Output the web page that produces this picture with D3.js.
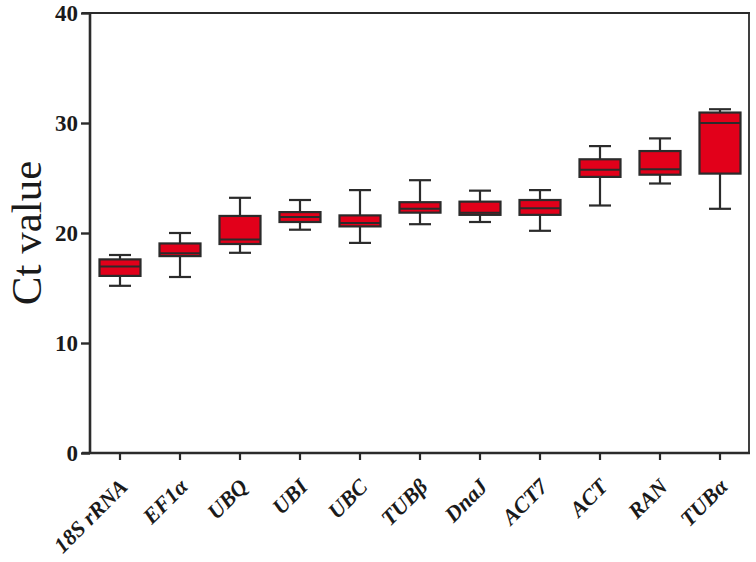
<!DOCTYPE html>
<html>
<head>
<meta charset="utf-8">
<script src="https://cdn.jsdelivr.net/npm/d3@7"></script>
<style>
  html, body { margin: 0; padding: 0; background: #fff; }
  svg { display: block; }
</style>
</head>
<body>
<svg id="chart" width="756" height="562"></svg>
<script>
const categories = ["18S rRNA", "EF1α", "UBQ", "UBI", "UBC", "TUBβ", "DnaJ", "ACT7", "ACT", "RAN", "TUBα"];
const whiskerMin = [15.2, 16.0, 18.2, 20.3, 19.1, 20.8, 21.0, 20.2, 22.5, 24.5, 22.2];
const q1Values   = [16.1, 17.9, 19.0, 21.0, 20.6, 21.85, 21.65, 21.65, 25.1, 25.3, 25.4];
const medians    = [16.95, 18.15, 19.4, 21.45, 20.9, 22.2, 21.85, 22.25, 25.75, 25.8, 30.0];
const q3Values   = [17.6, 19.05, 21.55, 21.9, 21.6, 22.8, 22.85, 23.0, 26.7, 27.45, 30.95];
const whiskerMax = [18.0, 20.0, 23.2, 23.0, 23.9, 24.8, 23.85, 23.9, 27.9, 28.6, 31.25];
const yTicks = [0, 10, 20, 30, 40];
const yTitle = "Ct value";

(function () {
const svg = d3.select("#chart");
const mLeft = 90, mRight = 750, mTop = 13, mBottom = 453;
const ink = "#2b2b2b";

const x = d3.scaleBand().domain(categories).range([mLeft, mRight]).paddingInner(0).paddingOuter(0);
const y = d3.scaleLinear().domain([0, 40]).range([mBottom, mTop]);

const boxW = 41, capW = 22;

const data = categories.map((c, i) => ({
  c, lo: whiskerMin[i], q1: q1Values[i], med: medians[i], q3: q3Values[i], hi: whiskerMax[i]
}));

svg.append("line").attr("x1", mLeft - 8).attr("x2", mRight).attr("y1", y(40)).attr("y2", y(40))
  .attr("stroke", ink).attr("stroke-width", 1.8);
svg.append("line").attr("x1", mRight - 1).attr("x2", mRight - 1).attr("y1", y(40)).attr("y2", y(0))
  .attr("stroke", ink).attr("stroke-width", 1.8);

const g = svg.append("g").selectAll("g").data(data).join("g")
  .attr("transform", d => `translate(${x(d.c) + x.bandwidth() / 2},0)`);

g.append("line").attr("x1", 0).attr("x2", 0).attr("y1", d => y(d.hi)).attr("y2", d => y(d.q3))
  .attr("stroke", ink).attr("stroke-width", 2.2);
g.append("line").attr("x1", 0).attr("x2", 0).attr("y1", d => y(d.q1)).attr("y2", d => y(d.lo))
  .attr("stroke", ink).attr("stroke-width", 2.2);
g.append("line").attr("x1", -capW / 2).attr("x2", capW / 2).attr("y1", d => y(d.hi)).attr("y2", d => y(d.hi))
  .attr("stroke", ink).attr("stroke-width", 2.2);
g.append("line").attr("x1", -capW / 2).attr("x2", capW / 2).attr("y1", d => y(d.lo)).attr("y2", d => y(d.lo))
  .attr("stroke", ink).attr("stroke-width", 2.2);
g.append("rect").attr("x", -boxW / 2).attr("width", boxW)
  .attr("y", d => y(d.q3)).attr("height", d => y(d.q1) - y(d.q3))
  .attr("fill", "#e2001a").attr("stroke", ink).attr("stroke-width", 2.2);
g.append("line").attr("x1", -boxW / 2).attr("x2", boxW / 2).attr("y1", d => y(d.med)).attr("y2", d => y(d.med))
  .attr("stroke", ink).attr("stroke-width", 2);

const yAxis = svg.append("g").attr("transform", `translate(${mLeft},0)`)
  .call(d3.axisLeft(y).tickValues(yTicks).tickSize(9).tickPadding(3).tickFormat(d3.format("d")));
yAxis.select(".domain").attr("stroke", ink).attr("stroke-width", 2.6).attr("d", `M0,${mTop - 1}V${mBottom + 1}`);
yAxis.selectAll(".tick line").attr("stroke", ink).attr("stroke-width", 2.4);
yAxis.selectAll(".tick text").attr("fill", "#1a1a1a")
  .style("font-family", "'Liberation Serif', 'Times New Roman', serif")
  .style("font-weight", "bold").style("font-size", "23px").attr("dy", "0.34em");

const xAxis = svg.append("g").attr("transform", `translate(0,${mBottom})`)
  .call(d3.axisBottom(x).tickSize(7).tickSizeOuter(0));
xAxis.select(".domain").attr("stroke", ink).attr("stroke-width", 2.6).attr("d", `M${mLeft - 8},0H${mRight}`);
xAxis.selectAll(".tick line").attr("stroke", ink).attr("stroke-width", 2.2);
xAxis.selectAll(".tick text")
  .attr("fill", "#1a1a1a")
  .style("font-family", "'Liberation Serif', 'Times New Roman', serif")
  .style("font-weight", "bold").style("font-style", "italic").style("font-size", "22px")
  .attr("text-anchor", "end")
  .attr("x", 0).attr("y", 0).attr("dy", 0)
  .attr("transform", "translate(9,35) rotate(-45)");

svg.append("text")
  .attr("transform", `translate(41,${y(20)}) rotate(-90)`)
  .attr("text-anchor", "middle")
  .attr("fill", "#1a1a1a")
  .style("font-family", "'Liberation Serif', 'Times New Roman', serif")
  .style("font-size", "43px")
  .text(yTitle);
})();
</script>
</body>
</html>
